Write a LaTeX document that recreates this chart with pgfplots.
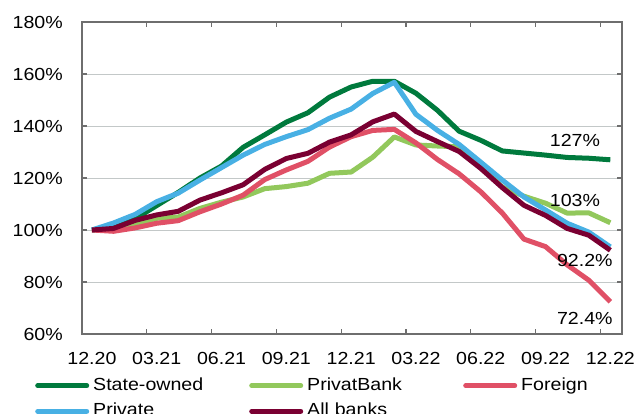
\documentclass[border=0pt]{standalone}
\usepackage{fontspec}
\setmainfont{Liberation Sans}[FakeStretch=1.12]
\usepackage{pgfplots}
\usepackage{pgfplotstable}
\pgfplotsset{compat=1.18}
\definecolor{cState}{RGB}{0,122,61}
\definecolor{cPrivat}{RGB}{146,200,92}
\definecolor{cForeign}{RGB}{224,80,102}
\definecolor{cPrivate}{RGB}{72,176,228}
\definecolor{cAll}{RGB}{122,0,50}
\definecolor{axisgray}{RGB}{110,110,110}
\definecolor{gridgray}{RGB}{195,200,200}

\pgfplotstableread{
i state privat foreign private all
0 100 100 100 100 100
1 101.5 100 99.5 102.7 100.6
2 104.3 102.4 100.8 106 103.7
3 109.4 104.5 102.6 110.9 105.8
4 114.5 105 103.6 114.2 107.2
5 120 108.3 107 119.2 111.5
6 124.6 110.7 110 124 114.3
7 131.8 112.7 113.4 128.8 117.4
8 136.6 115.9 119.4 132.9 123.3
9 141.5 116.7 123.1 135.9 127.5
10 145.1 118 126.4 138.6 129.5
11 151.1 121.8 131.9 143 133.8
12 155 122.3 135.9 146.5 136.6
13 157.2 128 138.3 152.5 141.6
14 157.2 135.8 138.7 156.8 144.6
15 152.6 132.7 133.5 144.5 137.9
16 146 132.3 127.1 138.3 134
17 138 132 121.6 132.9 130.2
18 134.5 124.6 114.7 126.1 123.7
19 130.4 116.5 106.5 119.2 116.3
20 129.6 113 96.5 112.7 109.5
21 128.8 110.3 93.6 107.7 105.6
22 127.9 106.5 86.6 102.6 100.6
23 127.6 106.6 80.7 99.2 98
24 127 102.8 72.4 93.5 92.2
}\data

\begin{document}
\begin{tikzpicture}[font=\fontsize{17.5}{21}\selectfont]
\useasboundingbox (-82pt,-80pt) rectangle (554pt,334pt);
\begin{axis}[
  at={(0,0)}, anchor=south west,
  scale only axis, width=540pt, height=312pt,
  xmin=-0.46, xmax=24.54, ymin=60, ymax=180,
  axis line style={draw=axisgray, line width=1.6pt},
  ytick={60,80,...,180},
  yticklabels={60\%,80\%,100\%,120\%,140\%,160\%,180\%},
  ymajorgrids,
  major grid style={draw=gridgray, line width=0.9pt},
  tick align=inside,
  major tick length=5pt,
  tick style={draw=axisgray, line width=1.2pt},
  yticklabel style={inner sep=0pt, xshift=-19pt},
  xtick={-0.46,2.54,5.54,8.54,11.54,14.54,17.54,20.54,23.54},
  xticklabels={},
  extra x ticks={0,3,6,9,12,15,18,21,24},
  extra x tick labels={12.20,03.21,06.21,09.21,12.21,03.22,06.22,09.22,12.22},
  extra x tick style={major tick length=0pt, xticklabel style={inner sep=0pt, yshift=-18pt}},
  legend columns=3,
  legend style={at={(-0.087,-0.1378)}, anchor=north west, draw=none, fill=none,
    inner sep=0pt, row sep=8.5pt, column sep=0pt,
    nodes={inner sep=0pt, text height=13pt, text depth=4pt, text width=156pt, align=left},
    /tikz/every odd column/.style={column sep=4pt}},
  legend image code/.code={\draw[#1, line width=5pt, line cap=round] (0pt,0pt) -- (49pt,0pt);},
  every axis plot/.append style={line width=5pt, line join=round, mark=none},
]
\addplot[cState] table[x=i, y=state] {\data};
\addlegendentry{State-owned}
\addplot[cPrivat] table[x=i, y=privat] {\data};
\addlegendentry{PrivatBank}
\addplot[cForeign] table[x=i, y=foreign] {\data};
\addlegendentry{Foreign}
\addplot[cPrivate] table[x=i, y=private] {\data};
\addlegendentry{Private}
\addplot[cAll] table[x=i, y=all] {\data};
\addlegendentry{All banks}
\node at (axis cs:22.36,134.6) {127\%};
\node at (axis cs:22.36,111.3) {103\%};
\node at (axis cs:22.82,88.1) {92.2\%};
\node at (axis cs:22.82,66.0) {72.4\%};
\end{axis}
\end{tikzpicture}
\end{document}
